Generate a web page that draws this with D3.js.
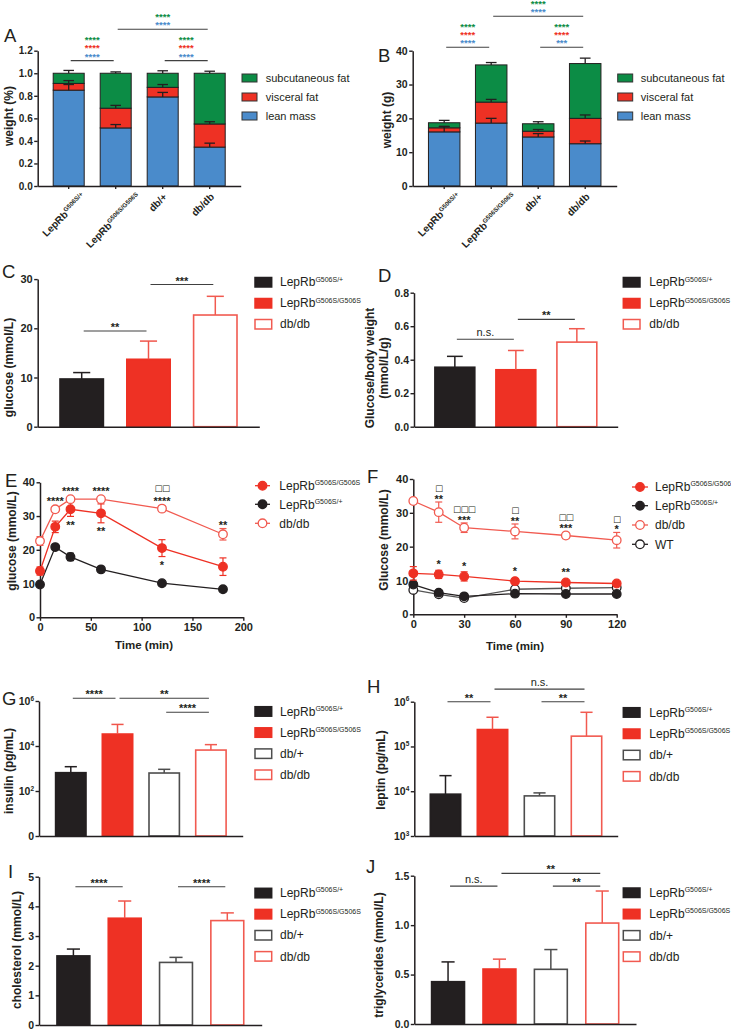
<!DOCTYPE html>
<html><head><meta charset="utf-8">
<script src="https://cdnjs.cloudflare.com/ajax/libs/d3/7.8.5/d3.min.js"></script>
<style>
html,body{margin:0;padding:0;background:#fff;}
svg{display:block;font-family:"Liberation Sans",Arial,Helvetica,sans-serif;}
</style></head><body>
<svg id="fig" width="731" height="1029"></svg>
<script>
// ================= DATA =================
const bodyGroups = ["LepRb|G506S/+", "LepRb|G506S/G506S", "db/+", "db/db"];
const compLegend = ["subcutaneous fat", "visceral fat", "lean mass"];

// A: body composition (% of body weight)
const pctLean = [0.85, 0.515, 0.79, 0.345];
const pctVisceral = [0.06, 0.175, 0.085, 0.205];
const pctSubcut = [0.09, 0.31, 0.125, 0.45];
const pctLeanErr = [0.05, 0.03, 0.04, 0.035];
const pctVisceralErr = [0.025, 0.025, 0.025, 0.02];
const pctSubcutErr = [0.025, 0.012, 0.022, 0.018];
const pctTicks = [0, 0.2, 0.4, 0.6, 0.8, 1.0, 1.2];
const pctTickLabels = ["0.0", "0.2", "0.4", "0.6", "0.8", "1.0", "1.2"];

// B: body composition (g)
const gLean = [16, 18.6, 14.5, 12.5];
const gVisceral = [1.2, 6.2, 1.7, 7.5];
const gSubcut = [1.5, 11, 2.2, 16.2];
const gLeanErr = [1.6, 1.4, 1.0, 0.8];
const gVisceralErr = [0.4, 0.8, 0.5, 1.0];
const gSubcutErr = [0.7, 0.7, 0.6, 1.6];
const gTicks = [0, 10, 20, 30, 40];
const gTickLabels = ["0", "10", "20", "30", "40"];

// C, D: fasting glucose
const glucGroups = ["LepRb|G506S/+", "LepRb|G506S/G506S", "db/db"];
const glucose = [9.7, 13.7, 22.7];
const glucoseErr = [1.3, 3.7, 3.8];
const glucoseTicks = [0, 10, 20, 30];
const glucoseTickLabels = ["0", "10", "20", "30"];
const glucoseBW = [0.355, 0.34, 0.505];
const glucoseBWErr = [0.065, 0.115, 0.08];
const glucoseBWTicks = [0, 0.2, 0.4, 0.6, 0.8];
const glucoseBWTickLabels = ["0.0", "0.2", "0.4", "0.6", "0.8"];

// E: glucose tolerance test
const gttTime = [0, 15, 30, 60, 120, 180];
const gttHom = [13.7, 26.8, 32, 30.8, 20.5, 15];
const gttHomErr = [1.2, 1.7, 2.1, 2.8, 2.5, 2.6];
const gttHet = [9.7, 20.8, 17.9, 14.2, 10.1, 8.3];
const gttHetErr = [0.4, 0.6, 1.1, 0.4, 0.4, 0.3];
const gttDb = [22.6, 32, 35, 35, 32.2, 24.6];
const gttDbErr = [1.3, 0.8, 0.4, 0.4, 0.8, 1.7];
const gttStarsDb = ["", "****", "****", "****", "****", "**"];
const gttSquaresDb = ["", "", "", "", "□□", ""];
const gttStarsHom = ["", "", "**", "**", "*", ""];
const gttXTicks = [0, 50, 100, 150, 200];
const gttYTicks = [0, 10, 20, 30, 40];

// F: insulin tolerance test
const ittTime = [0, 15, 30, 60, 90, 120];
const ittHom = [12.1, 11.8, 11.2, 9.8, 9.4, 9.1];
const ittHomErr = [2.0, 1.2, 1.35, 0.7, 0.6, 0.5];
const ittHet = [8.8, 6.4, 5.3, 6.1, 6.0, 6.0];
const ittHetErr = [0.5, 0.4, 0.4, 0.3, 0.3, 0.3];
const ittDb = [33.5, 30.2, 25.6, 24.5, 23.3, 21.9];
const ittDbErr = [0.8, 3.0, 1.4, 2.2, 0.9, 2.3];
const ittWT = [7.2, 5.9, 4.8, 7.4, 7.7, 7.9];
const ittWTErr = [0.4, 0.3, 0.3, 0.3, 0.3, 0.3];
const ittStarsDb = ["", "**", "***", "**", "***", "*"];
const ittSquaresDb = ["", "□", "□□□", "□", "□□", "□"];
const ittStarsHom = ["", "*", "*", "*", "**", ""];
const ittXTicks = [0, 30, 60, 90, 120];
const ittYTicks = [0, 10, 20, 30, 40];

// G-J: serum parameters
const serumGroups = ["LepRb|G506S/+", "LepRb|G506S/G506S", "db/+", "db/db"];
const insulin = [653, 34000, 630, 6600];
const insulinErr = [550, 57000, 290, 4900];
const insulinTicks = [1, 1e2, 1e4, 1e6];
const insulinTickLabels = ["0", "10|2", "10|4", "10|6"];
const leptin = [8600, 239000, 7870, 170000];
const leptinErr = [13700, 210000, 1310, 410000];
const leptinTicks = [1e3, 1e4, 1e5, 1e6];
const leptinTickLabels = ["10|3", "10|4", "10|5", "10|6"];
const cholesterol = [2.33, 3.6, 2.11, 3.52];
const cholesterolErr = [0.23, 0.58, 0.17, 0.26];
const cholTicks = [0, 1, 2, 3, 4, 5];
const cholTickLabels = ["0", "1", "2", "3", "4", "5"];
const triglycerides = [0.428, 0.556, 0.553, 1.021];
const triglyceridesErr = [0.2, 0.1, 0.2, 0.324];
const tgTicks = [0, 0.5, 1.0, 1.5];
const tgTickLabels = ["0.0", "0.5", "1.0", "1.5"];

// ================= STYLE =================
const FONT = '"Liberation Sans", Arial, sans-serif';
const INK = "#231f20";
const RED = "#ee3124";
const RED_OPEN = "#f15a50";
const GREY = "#4d4d4d";
const BLUE = "#4a8bcb";
const GREEN = "#0c8c45";
const LINE = "#404040";
const layerColors = [BLUE, RED, GREEN];
const stHet = {fill: INK, stroke: INK, err: INK};
const stHom = {fill: RED, stroke: RED, err: "#f0554b"};
const stDbHet = {fill: "#fff", stroke: GREY, err: GREY};
const stDb = {fill: "#fff", stroke: RED_OPEN, err: RED_OPEN};

const svg = d3.select("#fig");

// ================= HELPERS =================
function rich(sel, label, fs, supFs) {
  const p = label.split("|");
  sel.text(null);
  sel.append("tspan").text(p[0]);
  if (p.length > 1) sel.append("tspan").attr("font-size", supFs).attr("dy", -fs * 0.4).text(p[1]);
  return sel;
}
function band(n, x0, x1, step, bw) {
  const pi = 1 - bw / step;
  const po = ((x1 - x0) / step - n + pi) / 2;
  return d3.scaleBand().domain(d3.range(n)).range([x0, x1]).paddingInner(pi).paddingOuter(po);
}
function cx(b, i) { return b(i) + b.bandwidth() / 2; }

function yAxis(scale, x, ticks, labels, fs) {
  const ax = d3.axisLeft(scale).tickValues(ticks).tickSize(3.5).tickSizeOuter(0).tickPadding(1.5);
  const g = svg.append("g").attr("transform", `translate(${x},0)`).call(ax);
  g.attr("font-family", FONT);
  g.select(".domain").attr("stroke", INK).attr("stroke-width", 1.5);
  g.selectAll(".tick line").attr("stroke", INK).attr("stroke-width", 1.4);
  g.selectAll(".tick text").attr("fill", INK).attr("font-size", fs).attr("font-weight", "bold")
    .each(function (d, i) { rich(d3.select(this), labels[i], fs, fs * 0.62); });
}
function xBandAxis(b, y, tick) {
  const g = svg.append("g").attr("transform", `translate(0,${y})`)
    .call(d3.axisBottom(b).tickSize(tick).tickSizeOuter(0).tickFormat(""));
  g.select(".domain").attr("stroke", INK).attr("stroke-width", 1.5);
  g.selectAll(".tick line").attr("stroke", INK).attr("stroke-width", 1.3);
}
function xLinAxis(scale, y, ticks, fs) {
  const g = svg.append("g").attr("transform", `translate(0,${y})`)
    .call(d3.axisBottom(scale).tickValues(ticks).tickSize(3.5).tickSizeOuter(0).tickPadding(2));
  g.attr("font-family", FONT);
  g.select(".domain").attr("stroke", INK).attr("stroke-width", 1.5);
  g.selectAll(".tick line").attr("stroke", INK).attr("stroke-width", 1.4);
  g.selectAll(".tick text").attr("fill", INK).attr("font-size", fs).attr("font-weight", "bold");
}
function letter(t, x, y) {
  svg.append("text").attr("x", x).attr("y", y).attr("font-size", 18.5).attr("fill", INK).text(t);
}
function yLabel(x, y, lines, fs, lh) {
  const t = svg.append("text").attr("transform", `translate(${x},${y}) rotate(-90)`)
    .attr("text-anchor", "middle").attr("font-size", fs).attr("font-weight", "bold").attr("fill", INK);
  lines.forEach((l, k) => t.append("tspan").attr("x", 0).attr("y", (k - (lines.length - 1)) * (lh || 0)).text(l));
}
function xLabel(x, y, txt, fs) {
  svg.append("text").attr("x", x).attr("y", y).attr("text-anchor", "middle").attr("font-size", fs)
    .attr("font-weight", "bold").attr("fill", INK).text(txt);
}
function rotLabels(b, axisY, labels, fs, supFs) {
  labels.forEach((lab, i) => {
    const t = svg.append("text").attr("font-size", fs).attr("font-weight", "bold").attr("fill", INK)
      .attr("text-anchor", "end");
    rich(t, lab, fs, supFs);
    const sup = t.selectAll("tspan").nodes()[1];
    const sw = sup ? sup.getComputedTextLength() : 0;
    t.attr("transform", `translate(${cx(b, i) + 5 + 0.5 * sw},${axisY + 11.5}) rotate(-45)`);
  });
}
function starText(x, c, txt, fs, color) {
  svg.append("text").attr("x", x).attr("y", c + 0.59 * fs).attr("text-anchor", "middle")
    .attr("font-size", fs).attr("font-weight", "bold").attr("fill", color || INK).text(txt);
}
// grey-scale anti-aliased layer for the small square symbols
const squareLayer = svg.append("g").attr("opacity", 0.995);
function squareText(x, c, txt, fs) {
  squareLayer.append("text").attr("x", x).attr("y", c + 0.32 * fs).attr("text-anchor", "middle")
    .attr("font-size", fs).attr("font-family", '"DejaVu Sans", sans-serif')
    .attr("letter-spacing", -0.6).attr("fill", INK)
    .text(txt);
}
function bracket(b, i, j, y, labels, fs) {
  const xa = cx(b, i) + 2, xb = cx(b, j) - 2;
  svg.append("line").attr("x1", xa).attr("x2", xb).attr("y1", y).attr("y2", y)
    .attr("stroke", LINE).attr("stroke-width", 1.1);
  labels.forEach((l, k) => {
    const c = y - 6.5 - k * 8.3;
    if (/^\*+$/.test(l.t)) starText((xa + xb) / 2, c, l.t, fs, l.c);
    else svg.append("text").attr("x", (xa + xb) / 2).attr("y", c + 0.27 * 11).attr("text-anchor", "middle")
      .attr("font-size", 11).attr("fill", INK).text(l.t);
  });
}
function bars(b, y, values, errs, styles) {
  const g = svg.append("g");
  const y0 = y.range()[0], bw = b.bandwidth();
  g.selectAll("rect").data(values).join("rect")
    .attr("x", (d, i) => b(i) + 0.8).attr("width", bw - 1.6)
    .attr("y", d => y(d)).attr("height", d => y0 - y(d))
    .attr("fill", (d, i) => styles[i].fill).attr("stroke", (d, i) => styles[i].stroke).attr("stroke-width", 1.6);
  values.forEach((v, i) => {
    const x = cx(b, i), yt = y(v + errs[i]), cw = bw * 0.19;
    g.append("line").attr("x1", x).attr("x2", x).attr("y1", y(v)).attr("y2", yt)
      .attr("stroke", styles[i].err).attr("stroke-width", 1.5);
    g.append("line").attr("x1", x - cw).attr("x2", x + cw).attr("y1", yt).attr("y2", yt)
      .attr("stroke", styles[i].err).attr("stroke-width", 1.5);
  });
}
function stacked(b, y, layers, errs) {
  const keys = ["lean", "visceral", "subcut"];
  const rows = b.domain().map(i => ({lean: layers[0][i], visceral: layers[1][i], subcut: layers[2][i]}));
  const series = d3.stack().keys(keys)(rows);
  const g = svg.append("g");
  series.forEach((s, k) => {
    g.selectAll(null).data(s).join("rect")
      .attr("x", (d, i) => b(i)).attr("width", b.bandwidth())
      .attr("y", d => y(d[1])).attr("height", d => y(d[0]) - y(d[1]))
      .attr("fill", layerColors[k]).attr("stroke", INK).attr("stroke-width", 1);
  });
  series.forEach((s, k) => {
    s.forEach((d, i) => {
      const x = cx(b, i), yt = y(d[1] + errs[k][i]), cw = b.bandwidth() * 0.17;
      g.append("line").attr("x1", x).attr("x2", x).attr("y1", y(d[1])).attr("y2", yt).attr("stroke", INK).attr("stroke-width", 1.3);
      g.append("line").attr("x1", x - cw).attr("x2", x + cw).attr("y1", yt).attr("y2", yt).attr("stroke", INK).attr("stroke-width", 1.3);
    });
  });
}
function swatchLegend(x, top, step, w, h, tx, labels, styles, fs, supFs) {
  labels.forEach((l, k) => {
    const yt = top + k * step;
    svg.append("rect").attr("x", x).attr("y", yt).attr("width", w).attr("height", h)
      .attr("fill", styles[k].fill).attr("stroke", styles[k].stroke).attr("stroke-width", styles[k].sw || 1.5);
    const t = svg.append("text").attr("x", tx).attr("y", yt + h / 2 + 0.35 * fs).attr("font-size", fs).attr("fill", INK);
    rich(t, l, fs, supFs);
  });
}
function lineSeries(x, y, t, s) {
  const pts = t.map((tt, i) => ({t: tt, v: s.v[i], e: s.e[i]}));
  svg.append("path").datum(pts).attr("d", d3.line().x(d => x(d.t)).y(d => y(d.v)))
    .attr("fill", "none").attr("stroke", s.line).attr("stroke-width", 1.3);
  const g = svg.append("g");
  pts.forEach(d => {
    const px = x(d.t), a = y(d.v + d.e), bb = y(d.v - d.e);
    g.append("line").attr("x1", px).attr("x2", px).attr("y1", a).attr("y2", bb).attr("stroke", s.color).attr("stroke-width", 1.2);
    [a, bb].forEach(yy => g.append("line").attr("x1", px - 3.5).attr("x2", px + 3.5).attr("y1", yy).attr("y2", yy)
      .attr("stroke", s.color).attr("stroke-width", 1.2));
  });
  g.selectAll("circle").data(pts).join("circle").attr("cx", d => x(d.t)).attr("cy", d => y(d.v)).attr("r", 4.3)
    .attr("fill", s.filled ? s.color : "#fff").attr("stroke", s.color).attr("stroke-width", 1.3);
}
function lineLegend(x1, x2, tx, ys, items, fs, supFs) {
  items.forEach((it, k) => {
    const y = ys[k];
    svg.append("line").attr("x1", x1).attr("x2", x2).attr("y1", y).attr("y2", y).attr("stroke", it.line).attr("stroke-width", 1.3);
    svg.append("circle").attr("cx", (x1 + x2) / 2).attr("cy", y).attr("r", 4.3)
      .attr("fill", it.filled ? it.color : "#fff").attr("stroke", it.color).attr("stroke-width", 1.3);
    const t = svg.append("text").attr("x", tx).attr("y", y + 0.35 * fs).attr("font-size", fs).attr("fill", INK);
    rich(t, it.label, fs, supFs);
  });
}

// ================= PANEL A =================
{
  const xA = band(4, 37.7, 240.7, 47, 31);
  const yA = d3.scaleLinear().domain([0, 1.2]).range([186, 50.7]);
  stacked(xA, yA, [pctLean, pctVisceral, pctSubcut], [pctLeanErr, pctVisceralErr, pctSubcutErr]);
  yAxis(yA, 37.7, pctTicks, pctTickLabels, 10);
  xBandAxis(xA, 186, 3);
  rotLabels(xA, 186, bodyGroups, 10, 6.3);
  yLabel(13, 116, ["weight (%)"], 12);
  letter("A", 4, 42);
  swatchLegend(242, 74, 19, 15, 8, 265.7, compLegend,
    [{fill: GREEN, stroke: "#333", sw: 1}, {fill: RED, stroke: "#333", sw: 1}, {fill: BLUE, stroke: "#333", sw: 1}], 11, 7);
  const s3 = [{t: "****", c: BLUE}, {t: "****", c: RED}, {t: "****", c: GREEN}];
  bracket(xA, 0, 1, yA(1.112), s3, 9.5);
  bracket(xA, 2, 3, yA(1.112), s3, 9.5);
  bracket(xA, 1, 3, yA(1.39), [{t: "****", c: BLUE}, {t: "****", c: GREEN}], 9.5);
}
// ================= PANEL B =================
{
  const xB = band(4, 412.7, 616.7, 47, 31.5);
  const yB = d3.scaleLinear().domain([0, 40]).range([186, 50.7]);
  stacked(xB, yB, [gLean, gVisceral, gSubcut], [gLeanErr, gVisceralErr, gSubcutErr]);
  yAxis(yB, 412.7, gTicks, gTickLabels, 10.5);
  xBandAxis(xB, 186, 3);
  rotLabels(xB, 186, bodyGroups, 10, 6.3);
  yLabel(391, 120, ["weight (g)"], 12);
  letter("B", 378, 62);
  swatchLegend(617.7, 74, 19, 15, 8, 640.7, compLegend,
    [{fill: GREEN, stroke: "#333", sw: 1}, {fill: RED, stroke: "#333", sw: 1}, {fill: BLUE, stroke: "#333", sw: 1}], 11, 7);
  bracket(xB, 0, 1, yB(41), [{t: "****", c: BLUE}, {t: "****", c: RED}, {t: "****", c: GREEN}], 9.5);
  bracket(xB, 2, 3, yB(41), [{t: "***", c: BLUE}, {t: "****", c: RED}, {t: "****", c: GREEN}], 9.5);
  bracket(xB, 1, 3, yB(50.2), [{t: "****", c: BLUE}, {t: "****", c: GREEN}], 9.5);
}
// ================= PANEL C =================
const st3 = [stHet, stHom, stDb];
{
  const xC = band(3, 37.7, 259.3, 66.8, 45);
  const yC = d3.scaleLinear().domain([0, 30]).range([426.7, 279.1]);
  bars(xC, yC, glucose, glucoseErr, st3);
  yAxis(yC, 37.7, glucoseTicks, glucoseTickLabels, 11);
  xBandAxis(xC, 426.7, 0);
  yLabel(13, 367.5, ["glucose (mmol/L)"], 12);
  letter("C", 2, 278);
  swatchLegend(255, 277.5, 21, 16.7, 9.5, 280, glucGroups, st3, 12, 7);
  bracket(xC, 0, 1, yC(19.45), [{t: "**"}], 11);
  bracket(xC, 1, 2, yC(28.9), [{t: "***"}], 11);
}
// ================= PANEL D =================
{
  const xD = band(3, 414, 617.7, 61, 41.5);
  const yD = d3.scaleLinear().domain([0, 0.8]).range([426.7, 292.7]);
  bars(xD, yD, glucoseBW, glucoseBWErr, st3);
  yAxis(yD, 414, glucoseBWTicks, glucoseBWTickLabels, 10.5);
  xBandAxis(xD, 426.7, 0);
  yLabel(387.5, 368, ["Glucose/body weight", "(mmol/L/g)"], 12, 13.5);
  letter("D", 378, 282);
  swatchLegend(623.3, 277.5, 21, 16.7, 9.5, 649.3, glucGroups, st3, 12, 7);
  bracket(xD, 0, 1, yD(0.522), [{t: "n.s."}], 11);
  bracket(xD, 1, 2, yD(0.641), [{t: "**"}], 11);
}
// ================= PANEL E =================
{
  const xE = d3.scaleLinear().domain([0, 200]).range([40, 243.3]);
  const yE = d3.scaleLinear().domain([0, 40]).range([617.3, 482.3]);
  yAxis(yE, 40, gttYTicks, gttYTicks.map(String), 11);
  xLinAxis(xE, 617.3, gttXTicks, 11);
  lineSeries(xE, yE, gttTime, {v: gttHet, e: gttHetErr, color: INK, line: INK, filled: true});
  lineSeries(xE, yE, gttTime, {v: gttHom, e: gttHomErr, color: RED, line: RED, filled: true});
  lineSeries(xE, yE, gttTime, {v: gttDb, e: gttDbErr, color: RED_OPEN, line: RED_OPEN, filled: false});
  gttTime.forEach((t, i) => {
    const px = xE(t);
    const c = Math.min(yE(gttDb[i] + gttDbErr[i]), yE(gttDb[i]) - 4.5) - 6;
    if (gttStarsDb[i]) starText(px, c, gttStarsDb[i], 11);
    if (gttSquaresDb[i]) squareText(px, c - 10, gttSquaresDb[i], 8.5);
    const cb = Math.max(yE(gttHom[i] - gttHomErr[i]), yE(gttHom[i]) + 4.5) + 6;
    if (gttStarsHom[i]) starText(px, cb, gttStarsHom[i], 11);
  });
  yLabel(16.3, 541, ["glucose (mmol/L)"], 12);
  xLabel(144, 649, "Time (min)", 11.5);
  letter("E", 5, 487);
  lineLegend(255, 270, 279.3, [485.7, 504.3, 523.3], [
    {label: "LepRb|G506S/G506S", color: RED, line: RED, filled: true},
    {label: "LepRb|G506S/+", color: INK, line: INK, filled: true},
    {label: "db/db", color: RED_OPEN, line: RED_OPEN, filled: false}], 12, 7);
}
// ================= PANEL F =================
{
  const xF = d3.scaleLinear().domain([0, 120]).range([413.3, 616.7]);
  const yF = d3.scaleLinear().domain([0, 40]).range([614.3, 479]);
  yAxis(yF, 413.3, ittYTicks, ittYTicks.map(String), 11);
  xLinAxis(xF, 614.3, ittXTicks, 11);
  lineSeries(xF, yF, ittTime, {v: ittWT, e: ittWTErr, color: INK, line: "#555", filled: false});
  lineSeries(xF, yF, ittTime, {v: ittHet, e: ittHetErr, color: INK, line: INK, filled: true});
  lineSeries(xF, yF, ittTime, {v: ittHom, e: ittHomErr, color: RED, line: RED, filled: true});
  lineSeries(xF, yF, ittTime, {v: ittDb, e: ittDbErr, color: RED_OPEN, line: RED_OPEN, filled: false});
  ittTime.forEach((t, i) => {
    const px = xF(t);
    const c = Math.min(yF(ittDb[i] + ittDbErr[i]), yF(ittDb[i]) - 4.5) - 5.5;
    if (ittStarsDb[i]) starText(px, c, ittStarsDb[i], 11);
    if (ittSquaresDb[i]) squareText(px, c - 8, ittSquaresDb[i], 8.5);
    const ch = Math.min(yF(ittHom[i] + ittHomErr[i]), yF(ittHom[i]) - 4.5) - 8;
    if (ittStarsHom[i]) starText(px, ch, ittStarsHom[i], 11);
  });
  yLabel(388, 540, ["Glucose (mmol/L)"], 12);
  xLabel(515, 649.5, "Time (min)", 11.5);
  letter("F", 367, 483);
  lineLegend(632, 648, 655, [487, 505.7, 525, 544.3], [
    {label: "LepRb|G506S/G506S", color: RED, line: RED, filled: true},
    {label: "LepRb|G506S/+", color: INK, line: INK, filled: true},
    {label: "db/db", color: RED_OPEN, line: RED_OPEN, filled: false},
    {label: "WT", color: INK, line: INK, filled: false}], 12, 7);
}
// ================= PANELS G-J =================
const st4 = [stHet, stHom, stDbHet, stDb];
{
  const xG = band(4, 39, 242.7, 46.7, 32);
  const yG = d3.scaleLog().domain([1, 1e6]).range([836, 701]);
  bars(xG, yG, insulin, insulinErr, st4);
  yAxis(yG, 39, insulinTicks, insulinTickLabels, 10.5);
  xBandAxis(xG, 836, 0);
  yLabel(13, 771, ["insulin (pg/mL)"], 12);
  letter("G", 2, 705);
  swatchLegend(255, 706.7, 21.1, 16.7, 9.5, 280, serumGroups, st4, 12, 7);
  bracket(xG, 0, 1, yG(Math.pow(10, 6.12)), [{t: "****"}], 11);
  bracket(xG, 1, 3, yG(Math.pow(10, 6.12)), [{t: "**"}], 11);
  bracket(xG, 2, 3, yG(Math.pow(10, 5.5)), [{t: "****"}], 11);
}
{
  const xH = band(4, 414.3, 617.7, 47, 32);
  const yH = d3.scaleLog().domain([1e3, 1e6]).range([836, 701.7]);
  bars(xH, yH, leptin, leptinErr, st4);
  yAxis(yH, 414.3, leptinTicks, leptinTickLabels, 10.5);
  xBandAxis(xH, 836, 0);
  yLabel(384.5, 770, ["leptin (pg/mL)"], 12);
  letter("H", 367, 693);
  swatchLegend(623.3, 707.7, 21.3, 16.7, 9.5, 649.3, serumGroups, st4, 12, 7);
  bracket(xH, 0, 1, yH(1e6), [{t: "**"}], 11);
  bracket(xH, 1, 3, yH(Math.pow(10, 6.28)), [{t: "n.s."}], 11);
  bracket(xH, 2, 3, yH(1e6), [{t: "**"}], 11);
}
{
  const xI = band(4, 39, 261.7, 51.3, 34.5);
  const yI = d3.scaleLinear().domain([0, 5]).range([1025, 876.7]);
  bars(xI, yI, cholesterol, cholesterolErr, st4);
  yAxis(yI, 39, cholTicks, cholTickLabels, 10.5);
  xBandAxis(xI, 1025, 0);
  yLabel(21, 950, ["cholesterol (mmol/L)"], 12);
  letter("I", 8, 878);
  swatchLegend(255, 888.3, 21.1, 16.7, 9.5, 280, serumGroups, st4, 12, 7);
  bracket(xI, 0, 1, yI(4.66), [{t: "****"}], 11);
  bracket(xI, 2, 3, yI(4.66), [{t: "****"}], 11);
}
{
  const xJ = band(4, 414.3, 636, 51.4, 34.5);
  const yJ = d3.scaleLinear().domain([0, 1.5]).range([1024, 875.7]);
  bars(xJ, yJ, triglycerides, triglyceridesErr, st4);
  yAxis(yJ, 414.3, tgTicks, tgTickLabels, 10.5);
  xBandAxis(xJ, 1024, 0);
  yLabel(382.5, 955, ["triglycerides (mmol/L)"], 12);
  letter("J", 366, 873);
  swatchLegend(623.3, 888, 21.3, 16.7, 9.5, 649.3, serumGroups, st4, 12, 7);
  bracket(xJ, 0, 1, yJ(1.395), [{t: "n.s."}], 11);
  bracket(xJ, 1, 3, yJ(1.524), [{t: "**"}], 11);
  bracket(xJ, 2, 3, yJ(1.395), [{t: "**"}], 11);
}
</script>
</body></html>
